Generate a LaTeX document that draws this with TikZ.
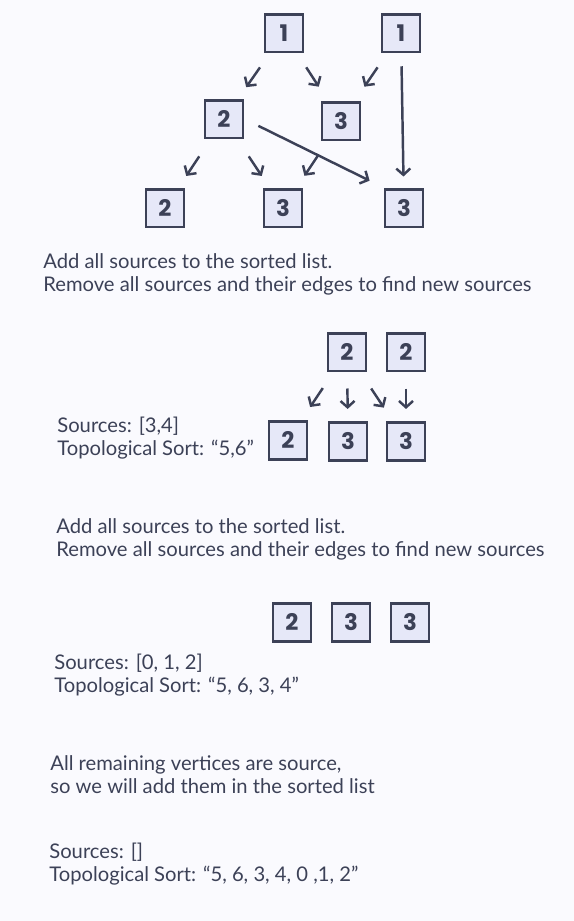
\documentclass[tikz,border=0pt]{standalone}
\usepackage{fontspec}
\setmainfont{Lato}
\newfontfamily\numfont{Poppins}
\usepackage{xcolor}
\usepackage{tikz}
\usetikzlibrary{arrows.meta,calc}

\definecolor{ink}{HTML}{3C4157}
\definecolor{boxfill}{HTML}{E6E8F8}
\definecolor{paper}{HTML}{FAFAFE}

\begin{document}
\begin{tikzpicture}[
    x=0.02cm, y=-0.02cm,
    >={Straight Barb[length=3.6pt,width=8pt]},
    vertex/.style={
        draw=ink,
        line width=1.7pt,
        fill=boxfill,
        minimum size=0.76cm,
        inner sep=0pt,
        text=ink,
        font=\numfont\fontsize{13}{13}\selectfont\bfseries
    },
    arr/.style={
        ->,
        draw=ink,
        line width=1.4pt
    },
    note/.style={
        anchor=west,
        align=left,
        text=ink,
        inner sep=0pt,
        font=\fontsize{11.5}{13.1}\selectfont
    }
]

% page
\fill[paper] (0,0) rectangle (574,921);

% Step 1 --- the full graph
\node[vertex] (t1l) at (284,33)  {1};
\node[vertex] (t1r) at (401,33)  {1};
\node[vertex] (m2)  at (224,119) {2};
\node[vertex] (m3)  at (341,121) {3};
\node[vertex] (b2)  at (165,208) {2};
\node[vertex] (b3)  at (283,208) {3};
\node[vertex] (b3r) at (404,208) {3};

\draw[arr] ($(t1l)!0.40!(m2)$) -- ($(t1l)!0.63!(m2)$);
\draw[arr] ($(t1l)!0.39!(m3)$) -- ($(t1l)!0.61!(m3)$);
\draw[arr] ($(t1r)!0.39!(m3)$) -- ($(t1r)!0.61!(m3)$);
\draw[arr] ($(t1r)!0.19!(b3r)$) -- ($(t1r)!0.82!(b3r)$);
\draw[arr] ($(m2)!0.42!(b2)$) -- ($(m2)!0.64!(b2)$);
\draw[arr] ($(m2)!0.42!(b3)$) -- ($(m2)!0.64!(b3)$);
\draw[arr] ($(m3)!0.40!(b3)$) -- ($(m3)!0.63!(b3)$);
\draw[arr] ($(m2.east)!0.10!(b3r.north west)$) -- ($(m2.east)!0.90!(b3r.north west)$);

\node[note] (txt1) at (43,274)
    {Add all sources to the sorted list.\\Remove all sources and their edges to find new sources};


% Step 2 --- after removing the first sources
\node[vertex] (s2a) at (347,352) {2};
\node[vertex] (s2b) at (406,352) {2};
\node[vertex] (c2)  at (288,440) {2};
\node[vertex] (c3)  at (348,441) {3};
\node[vertex] (c3r) at (406,441) {3};

\draw[arr] ($(s2a)!0.41!(c2)$)  -- ($(s2a)!0.625!(c2)$);
\draw[arr] ($(s2a)!0.41!(c3)$)  -- ($(s2a)!0.64!(c3)$);
\draw[arr] ($(s2a)!0.41!(c3r)$) -- ($(s2a)!0.625!(c3r)$);
\draw[arr] ($(s2b)!0.41!(c3r)$) -- ($(s2b)!0.64!(c3r)$);

\node[note] (src1) at (57,438.5)
    {Sources: [3,4]\\Topological Sort: “5,6”};

\node[note] (txt2) at (56,539.5)
    {Add all sources to the sorted list.\\Remove all sources and their edges to find new sources};


% Step 3 --- only sources left
\node[vertex] (d2)  at (292,622) {2};
\node[vertex] (d3)  at (351,622) {3};
\node[vertex] (d3r) at (410,622) {3};

\node[note] (src2) at (54,675.5)
    {Sources: [0, 1, 2]\\Topological Sort: “5, 6, 3, 4”};

\node[note] (txt3) at (50,775)
    {All remaining vertices are source,\\so we will add them in the sorted list};

\node[note] (src3) at (49,864.5)
    {Sources: []\\Topological Sort: “5, 6, 3, 4, 0 ,1, 2”};

\end{tikzpicture}
\end{document}
